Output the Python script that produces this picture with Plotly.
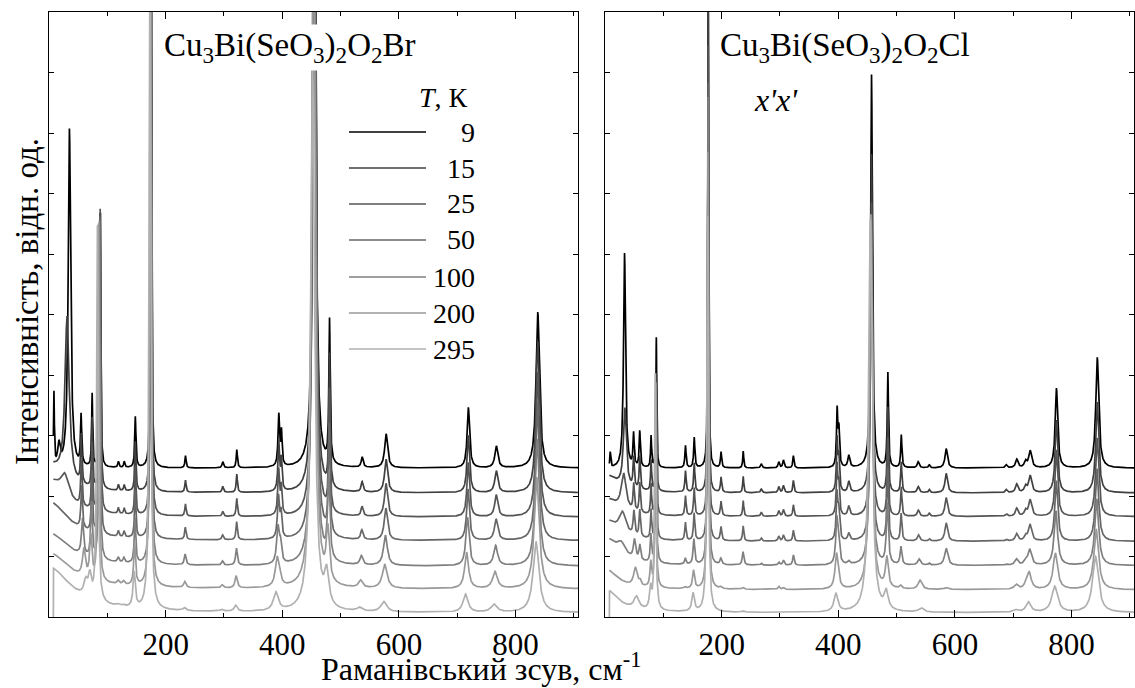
import numpy as np
import plotly.graph_objects as go

FONT = "Liberation Serif"

# ---------------- data ----------------
temps = ["9", "15", "25", "50", "100", "200", "295"]
colors = ["#000000", "#404040", "#555555", "#666666", "#7f7f7f", "#999999", "#b0b0b0"]
# vertical offsets of the spectra (arb. units, axis 0..10)
offset_br = [2.46, 2.05, 1.65, 1.26, 0.84, 0.46, 0.07]
offset_cl = [2.46, 2.05, 1.66, 1.25, 0.85, 0.45, 0.07]
# how far each temperature is from the 9 K to the 295 K peak parameters
t_frac = [0.0, 0.02, 0.05, 0.12, 0.3, 0.6, 1.0]
spectrum_start = 7.5      # cm-1, first recorded point
spectrum_end = 910.0
drops_to_zero = [False, False, False, False, False, False, True]

# ---- Cu3Bi(SeO3)2O2Br ----
br_pos9   = [8.5, 17, 55, 74, 88, 119, 129, 148, 175, 234, 298, 322, 394, 398.5, 455, 481, 537, 578, 719, 767, 838]
br_pos295 = [8.5, 17, 63, 70, 83, 118, 127, 146, 173, 232, 296, 320, 389, 393, 452, 476, 532, 574, 714, 763, 835]
br_w9     = [0.8, 2.5, 1.2, 1.0, 0.9, 1.2, 1.2, 1.2, 0.8, 1.2, 1.5, 1.2, 1.6, 1.3, 2.5, 1.3, 2.0, 3.0, 2.5, 3.0, 3.5]
br_w295   = [0.8, 2.5, 4.0, 3.0, 1.5, 3.0, 3.0, 2.2, 1.6, 3.0, 3.0, 3.0, 5.0, 4.0, 4.0, 4.5, 5.0, 6.0, 5.0, 6.0, 6.0]
br_heights = [
    [1.2, 0, 0, 0, 0, 0, 0],
    [0.35, 0, 0, 0, 0, 0, 0],
    [0.82, 0.8, 0.75, 0.7, 0.6, 0.45, 0.25],
    [1.2, 1.15, 1.1, 1.0, 0.9, 0.7, 0.35],
    [4.2, 4.6, 5.0, 5.3, 5.6, 5.9, 6.2],
    [0.1, 0.1, 0.1, 0.1, 0.08, 0.06, 0.03],
    [0.1, 0.1, 0.1, 0.1, 0.08, 0.06, 0.03],
    [0.84, 0.82, 0.8, 0.78, 0.75, 0.7, 0.58],
    [13, 13, 13, 13, 13, 12, 11],
    [0.2, 0.2, 0.2, 0.2, 0.18, 0.1, 0.05],
    [0.1, 0.1, 0.08, 0.08, 0.07, 0.05, 0.03],
    [0.3, 0.3, 0.3, 0.3, 0.28, 0.2, 0.1],
    [0.85, 0.8, 0.75, 0.7, 0.6, 0.45, 0.3],
    [0.55, 0.5, 0.45, 0.4, 0.3, 0.15, 0.0],
    [14, 14, 14, 14, 13, 12, 9],
    [2.36, 2.2, 2.0, 1.8, 1.4, 0.86, 0.55],
    [0.17, 0.17, 0.16, 0.16, 0.15, 0.12, 0.06],
    [0.56, 0.55, 0.55, 0.53, 0.5, 0.4, 0.17],
    [1.0, 0.95, 0.9, 0.85, 0.8, 0.6, 0.3],
    [0.36, 0.36, 0.36, 0.35, 0.33, 0.28, 0.13],
    [2.58, 2.5, 2.4, 2.3, 2.1, 1.85, 1.17],
]
# soft low-frequency mode, per temperature
br_soft_pos = [35, 31, 27, 24, 20, 15, 10]
br_soft_h   = [5.6, 2.7, 0.35, 0.0, 0.0, 0.0, 0.0]
br_soft_w   = [2.5, 4.3, 8.0, 8.0, 8.0, 8.0, 8.0]
# quasi-elastic wing at low frequency
br_wing_h = [0.0, 0.45, 0.6, 0.65, 0.55, 0.6, 0.75]
br_wing_w = [30, 30, 35, 38, 40, 42, 45]

# ---- Cu3Bi(SeO3)2O2Cl ----
cl_pos9   = [9, 49, 59.6, 79, 88, 138, 153, 177, 199, 237, 268, 298, 306, 323, 398, 401, 418, 457, 485, 508, 537, 556, 585, 688, 706, 721, 729, 774, 844]
cl_pos295 = [9, 54, 60, 78, 86, 137, 151, 176, 198, 236, 268, 298, 306, 323, 396, 399, 418, 455, 482, 506, 542, 556, 585, 688, 704, 721, 726, 771, 841]
cl_w9     = [0.8, 1.2, 1.2, 1.0, 0.8, 1.2, 1.2, 0.8, 1.2, 1.0, 1.5, 1.5, 1.5, 1.2, 1.3, 1.3, 2.0, 1.8, 1.2, 1.2, 2.0, 1.5, 2.5, 2.0, 2.5, 2.5, 3.0, 2.5, 3.0]
cl_w295   = [0.8, 5.0, 3.0, 2.0, 1.3, 2.0, 2.5, 1.5, 3.0, 3.0, 2.0, 2.0, 2.0, 2.0, 4.0, 4.0, 3.0, 3.5, 4.0, 3.0, 5.0, 2.0, 5.0, 3.0, 5.0, 3.0, 5.0, 6.0, 6.0]
cl_heights = [
    [0.25, 0, 0, 0, 0, 0, 0],
    [0.54, 0.5, 0.45, 0.4, 0.32, 0.3, 0.2],
    [0.6, 0.55, 0.5, 0.45, 0.25, 0.08, 0.0],
    [0.52, 0.5, 0.5, 0.48, 0.45, 0.4, 0.35],
    [2.15, 1.95, 2.05, 2.5, 3.0, 3.4, 3.9],
    [0.37, 0.35, 0.33, 0.3, 0.1, 0.03, 0.0],
    [0.5, 0.48, 0.46, 0.45, 0.42, 0.3, 0.3],
    [8.5, 8.0, 7.8, 7.7, 7.75, 7.27, 6.55],
    [0.26, 0.25, 0.24, 0.23, 0.1, 0.03, 0.0],
    [0.28, 0.27, 0.26, 0.25, 0.22, 0.03, 0.02],
    [0.07, 0.06, 0.06, 0.05, 0.03, 0.0, 0.0],
    [0.1, 0.1, 0.09, 0.08, 0.05, 0.05, 0.0],
    [0.13, 0.12, 0.11, 0.1, 0.08, 0.03, 0.0],
    [0.2, 0.2, 0.19, 0.18, 0.17, 0.0, 0.0],
    [0.93, 0.85, 0.8, 0.75, 0.7, 0.55, 0.3],
    [0.6, 0.55, 0.5, 0.45, 0.35, 0.1, 0.0],
    [0.2, 0.18, 0.16, 0.12, 0.05, 0.0, 0.0],
    [6.5, 5.6, 5.2, 5.4, 5.8, 6.2, 6.5],
    [1.56, 1.4, 1.3, 1.2, 1.0, 0.5, 0.3],
    [0.54, 0.5, 0.48, 0.45, 0.3, 0.05, 0.0],
    [0.1, 0.1, 0.1, 0.1, 0.1, 0.15, 0.07],
    [0.05, 0.05, 0.05, 0.04, 0.03, 0.0, 0.0],
    [0.32, 0.32, 0.31, 0.3, 0.28, 0.03, 0.0],
    [0.05, 0.05, 0.04, 0.03, 0.02, 0.0, 0.0],
    [0.14, 0.14, 0.13, 0.12, 0.1, 0.08, 0.04],
    [0.1, 0.1, 0.09, 0.08, 0.07, 0.05, 0.0],
    [0.28, 0.28, 0.27, 0.27, 0.26, 0.28, 0.17],
    [1.32, 1.2, 1.1, 1.0, 0.9, 0.6, 0.43],
    [1.83, 1.5, 1.3, 1.2, 1.1, 1.0, 0.93],
]
cl_soft_pos = [33.5, 34, 32, 30, 28, 25, 20]
cl_soft_h   = [3.55, 1.3, 0.6, 0.35, 0.2, 0.0, 0.0]
cl_soft_w   = [2.0, 3.0, 5.0, 7.0, 9.0, 10.0, 10.0]
cl_wing_h = [0.0, 0.3, 0.3, 0.35, 0.45, 0.35, 0.4]
cl_wing_w = [25, 25, 25, 25, 25, 25, 25]

x_ticks = [200, 400, 600, 800]
x_minor = [100, 300, 500, 700, 900]
x_range = [0, 907]
y_range = [0, 10]

title_br = "Cu<sub>3</sub>Bi(SeO<sub>3</sub>)<sub>2</sub>O<sub>2</sub>Br"
title_cl = "Cu<sub>3</sub>Bi(SeO<sub>3</sub>)<sub>2</sub>O<sub>2</sub>Cl"
pol_label = "<i>x'x'</i>"
legend_title = "<i>T</i>, К"
x_title = "Раманівський зсув, см<sup>-1</sup>"
y_title = "Інтенсивність, відн. од."


# ---------------- build spectra ----------------
def lorentz(x, p, w):
    return 1.0 / (1.0 + ((x - p) / w) ** 2)


def spectrum(x, i, offset, pos9, pos295, w9, w295, heights, spos, sh, sw, wh, ww):
    f = t_frac[i]
    y = np.full_like(x, offset[i])
    for k in range(len(pos9)):
        h = heights[k][i]
        if h <= 0:
            continue
        p = pos9[k] + f * (pos295[k] - pos9[k])
        w = w9[k] + f * (w295[k] - w9[k])
        y += h * lorentz(x, p, w)
    if sh[i] > 0:
        y += sh[i] * lorentz(x, spos[i], sw[i])
    if wh[i] > 0:
        y += wh[i] * lorentz(x, 0.0, ww[i])
    if drops_to_zero[i]:
        y[0] = 0.0
    return y


x = np.arange(spectrum_start, spectrum_end, 0.25)

fig = go.Figure()
for i, t in enumerate(temps):
    y = spectrum(x, i, offset_br, br_pos9, br_pos295, br_w9, br_w295, br_heights,
                 br_soft_pos, br_soft_h, br_soft_w, br_wing_h, br_wing_w)
    fig.add_trace(go.Scatter(x=x, y=y, mode="lines", name=t + " K",
                             line=dict(color=colors[i], width=1.7),
                             xaxis="x", yaxis="y", showlegend=False, hoverinfo="skip"))
for i, t in enumerate(temps):
    y = spectrum(x, i, offset_cl, cl_pos9, cl_pos295, cl_w9, cl_w295, cl_heights,
                 cl_soft_pos, cl_soft_h, cl_soft_w, cl_wing_h, cl_wing_w)
    fig.add_trace(go.Scatter(x=x, y=y, mode="lines", name=t + " K",
                             line=dict(color=colors[i], width=1.7),
                             xaxis="x2", yaxis="y2", showlegend=False, hoverinfo="skip"))

W, H = 1135, 688
left_dom = [49 / W, 578 / W]
right_dom = [605 / W, 1134 / W]
y_dom = [(H - 617) / H, (H - 12) / H]

tickfont = dict(family=FONT, size=31, color="black")
xcommon = dict(range=x_range, tickvals=x_ticks, ticks="inside", ticklen=7, tickwidth=1.3,
               tickcolor="black", showline=True, linecolor="black", linewidth=1.3,
               mirror="ticks", showgrid=False, zeroline=False, tickfont=tickfont,
               minor=dict(tickvals=x_minor, ticks="inside", ticklen=4, tickwidth=1.2,
                          tickcolor="black", showgrid=False))
ycommon = dict(range=y_range, dtick=1, tick0=0, ticks="inside", ticklen=5, tickwidth=1.2,
               tickcolor="black", showline=True, linecolor="black", linewidth=1.3,
               mirror="ticks", showgrid=False, zeroline=False, showticklabels=False)

fig.update_layout(
    width=W, height=H,
    margin=dict(l=0, r=0, t=0, b=0),
    paper_bgcolor="white", plot_bgcolor="white",
    showlegend=False,
    font=dict(family=FONT, color="black"),
    xaxis=dict(domain=left_dom, anchor="y", **xcommon),
    yaxis=dict(domain=y_dom, anchor="x", **ycommon),
    xaxis2=dict(domain=right_dom, anchor="y2", **xcommon),
    yaxis2=dict(domain=y_dom, anchor="x2", **ycommon),
)

ann = []
# panel titles with white boxes
ann.append(dict(text=title_br, xref="paper", yref="paper", x=290 / W, y=(H - 47) / H,
                xanchor="center", yanchor="middle", showarrow=False,
                font=dict(family=FONT, size=33, color="black"), bgcolor="white", borderpad=2))
ann.append(dict(text=title_cl, xref="paper", yref="paper", x=845 / W, y=(H - 47) / H,
                xanchor="center", yanchor="middle", showarrow=False,
                font=dict(family=FONT, size=33, color="black"), bgcolor="white", borderpad=2))
ann.append(dict(text=pol_label, xref="paper", yref="paper", x=776 / W, y=(H - 100) / H,
                xanchor="center", yanchor="middle", showarrow=False,
                font=dict(family=FONT, size=32, color="black")))
# axis titles
ann.append(dict(text=x_title, xref="paper", yref="paper", x=481 / W, y=0,
                xanchor="center", yanchor="bottom", showarrow=False, borderpad=0,
                font=dict(family=FONT, size=32, color="black")))
ann.append(dict(text=y_title, xref="paper", yref="paper", x=27 / W, y=(H - 302) / H,
                xanchor="center", yanchor="middle", showarrow=False, textangle=-90,
                font=dict(family=FONT, size=33, color="black")))
# legend
ann.append(dict(text=legend_title, xref="paper", yref="paper", x=470 / W, y=(H - 97) / H,
                xanchor="right", yanchor="middle", showarrow=False,
                font=dict(family=FONT, size=28, color="black")))
shapes = []
leg_y = [132, 168, 204, 240, 277, 313, 349]
for i, t in enumerate(temps):
    shapes.append(dict(type="line", xref="paper", yref="paper",
                       x0=349 / W, x1=426 / W, y0=(H - leg_y[i]) / H, y1=(H - leg_y[i]) / H,
                       line=dict(color=colors[i], width=1.6)))
    ann.append(dict(text=t, xref="paper", yref="paper", x=477 / W, y=(H - leg_y[i]) / H,
                    xanchor="right", yanchor="middle", showarrow=False,
                    font=dict(family=FONT, size=28, color="black")))

fig.update_layout(annotations=ann, shapes=shapes)
fig.write_html("out.html", config={"displayModeBar": False},
               post_script="document.body.style.margin='0';document.body.style.padding='0';")
